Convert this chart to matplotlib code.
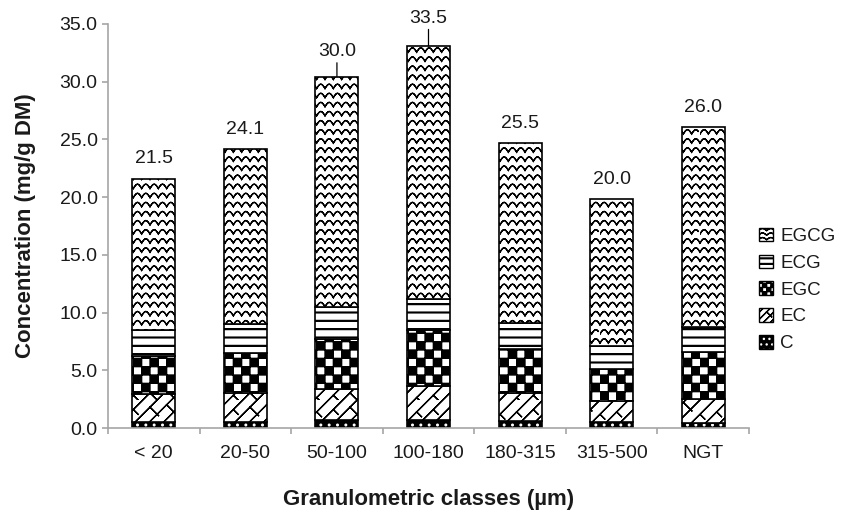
#!/usr/bin/env python3
"""Catechin content per granulometric class, stacked bars with hatch patterns."""

import warnings

import numpy as np
import matplotlib
matplotlib.use("Agg")
import matplotlib.pyplot as plt
import matplotlib.hatch as mhatch
from matplotlib.path import Path
from matplotlib.patches import Patch
from matplotlib.ticker import FixedLocator, FormatStrFormatter

warnings.filterwarnings("ignore")

classes = ["< 20", "20-50", "50-100", "100-180", "180-315", "315-500", "NGT"]
c_vals = [0.55, 0.55, 0.7, 0.7, 0.6, 0.5, 0.45]
ec_vals = [2.4, 2.45, 2.65, 2.95, 2.45, 1.8, 2.1]
egc_vals = [3.25, 3.5, 4.4, 4.8, 3.8, 2.8, 4.0]
ecg_vals = [2.3, 2.55, 2.7, 2.75, 2.25, 2.0, 2.2]
egcg_vals = [13.1, 15.1, 20.0, 21.9, 15.55, 12.7, 17.3]
total_labels = ["21.5", "24.1", "30.0", "33.5", "25.5", "20.0", "26.0"]


# matplotlib lacks the wavy, checker, stripe and brick hatches of the
# original, so a few small pattern classes are added to matplotlib.hatch
def _open_polyline(vertices, codes, pts):
    # go there and back so the filled area of an open line stays empty
    n = len(pts)
    vertices[:2 * n] = np.vstack([pts, pts[::-1]])
    codes[0] = Path.MOVETO
    codes[1:2 * n] = Path.LINETO


class WaveHatch(mhatch.HatchPatternBase):
    def __init__(self, hatch, density):
        self.num_rows = int(round(hatch.count("~") * 5.5))
        self.num_waves = 12
        self.pts = self.num_waves * 8 + 1
        self.num_vertices = self.num_rows * self.pts * 2

    def set_vertices_and_codes(self, vertices, codes):
        xs = np.linspace(0.0, 1.0, self.pts)
        step = 1.0 / self.num_rows
        wave = 0.24 * step * (2 * np.abs(np.sin(np.pi * self.num_waves * xs)) - 1)
        n2 = 2 * self.pts
        for r in range(self.num_rows):
            pts = np.column_stack([xs, (r + 0.5) * step + wave])
            _open_polyline(vertices[n2 * r:n2 * (r + 1)], codes[n2 * r:n2 * (r + 1)], pts)


class CheckerHatch(mhatch.HatchPatternBase):
    def __init__(self, hatch, density):
        self.num_cells = int(hatch.count("#") * density) * 2
        self.num_vertices = (self.num_cells ** 2 // 2) * 5

    def set_vertices_and_codes(self, vertices, codes):
        n = self.num_cells
        size = 1.0 / n
        k = 0
        for i in range(n):
            for j in range(n):
                if (i + j) % 2:
                    continue
                x, y = i * size, j * size
                vertices[k:k + 5] = [(x, y), (x + size, y), (x + size, y + size),
                                     (x, y + size), (x, y)]
                codes[k] = Path.MOVETO
                codes[k + 1:k + 4] = Path.LINETO
                codes[k + 4] = Path.CLOSEPOLY
                k += 5


class StripeHatch(mhatch.HatchPatternBase):
    def __init__(self, hatch, density):
        self.num_rows = int(hatch.count("=") * density)
        self.num_vertices = self.num_rows * 5

    def set_vertices_and_codes(self, vertices, codes):
        step = 1.0 / self.num_rows
        h = 0.004
        for r in range(self.num_rows):
            y = (r + 0.5) * step
            vertices[5 * r:5 * r + 5] = [(0, y - h), (1, y - h), (1, y + h),
                                         (0, y + h), (0, y - h)]
            codes[5 * r] = Path.MOVETO
            codes[5 * r + 1:5 * r + 4] = Path.LINETO
            codes[5 * r + 4] = Path.CLOSEPOLY


class BrickHatch(mhatch.HatchPatternBase):
    """'/' lines joined by short '\\' rungs, like a diagonal brick wall."""

    def __init__(self, hatch, density):
        self.n = int(hatch.count("z") * 7)
        self.rungs = 3
        if self.n:
            self.offsets = np.arange(-self.n - 1, self.n + 2) / self.n
        else:
            self.offsets = np.array([])
        self.num_vertices = len(self.offsets) * (4 + self.rungs * 2 * 4)

    def set_vertices_and_codes(self, vertices, codes):
        d = 1.0 / (2 * self.n)
        k = 0
        for idx, c in enumerate(self.offsets):
            pts = np.array([(-0.1, -0.1 + c), (1.1, 1.1 + c)])
            _open_polyline(vertices[k:k + 4], codes[k:k + 4], pts)
            k += 4
            shift = 0.5 if idx % 2 else 0.0
            for j in range(self.rungs):
                t0 = (j + shift) / self.rungs
                for t in (t0 - 1.0, t0):
                    pts = np.array([(t, t + c), (t + d, t + c - d)])
                    _open_polyline(vertices[k:k + 4], codes[k:k + 4], pts)
                    k += 4


mhatch._hatch_types.extend([WaveHatch, CheckerHatch, StripeHatch, BrickHatch])

plt.rcParams["font.family"] = ["Liberation Sans", "DejaVu Sans"]
plt.rcParams["hatch.linewidth"] = 0.95

GRAY = "#a6a6a6"
TEXT = "#1a1a1a"


def main() -> None:
    fig = plt.figure(figsize=(8.41, 5.11), dpi=100)
    ax = fig.add_axes([108 / 841, 83 / 511, 641 / 841, 404 / 511])

    x = np.arange(len(classes))
    width = 0.47
    bottom = np.zeros(len(classes))

    # C: black with white dots
    ax.bar(x, c_vals, width, bottom=bottom, color="black", edgecolor="white",
           hatch="..", linewidth=0)
    ax.bar(x, c_vals, width, bottom=bottom, fill=False, edgecolor="black", linewidth=1.2)
    bottom += c_vals

    layers = [
        ("EC", ec_vals, "z"),
        ("EGC", egc_vals, "#"),
        ("ECG", ecg_vals, "=="),
        ("EGCG", egcg_vals, "~~"),
    ]
    for name, vals, hatch in layers:
        ax.bar(x, vals, width, bottom=bottom, color="white", edgecolor="black",
               hatch=hatch, linewidth=1.2)
        bottom += vals

    # total labels, two of them pushed up with a leader line
    for i, top in enumerate(bottom):
        if i == 2:
            ax.annotate(total_labels[i], xy=(i, top), xytext=(0, 18),
                        textcoords="offset points", ha="center", va="center",
                        fontsize=14, color=TEXT,
                        arrowprops=dict(arrowstyle="-", color="black", lw=0.9,
                                        shrinkA=0, shrinkB=0))
        elif i == 3:
            ax.annotate(total_labels[i], xy=(i, top), xytext=(0, 20),
                        textcoords="offset points", ha="center", va="center",
                        fontsize=14, color=TEXT,
                        arrowprops=dict(arrowstyle="-", color="black", lw=0.9,
                                        shrinkA=0, shrinkB=0))
        else:
            ax.annotate(total_labels[i], xy=(i, top), xytext=(0, 14.5),
                        textcoords="offset points", ha="center", va="center",
                        fontsize=14, color=TEXT)

    ax.set_xlim(-0.5, len(classes) - 0.5)
    ax.set_ylim(0, 35)
    ax.yaxis.set_major_locator(FixedLocator(np.arange(0, 35.1, 5)))
    ax.yaxis.set_major_formatter(FormatStrFormatter("%.1f"))
    ax.set_xticks(x)
    ax.set_xticklabels(classes)
    ax.xaxis.set_minor_locator(FixedLocator(np.arange(-0.5, len(classes), 1.0)))

    for side in ("top", "right"):
        ax.spines[side].set_visible(False)
    for side in ("left", "bottom"):
        ax.spines[side].set_color(GRAY)
        ax.spines[side].set_linewidth(1.2)

    ax.tick_params(axis="y", direction="out", length=4, width=1.2, color=GRAY,
                   labelsize=14, labelcolor=TEXT, pad=3.5)
    ax.tick_params(axis="x", which="major", length=0, labelsize=14,
                   labelcolor=TEXT, pad=12)
    ax.tick_params(axis="x", which="minor", direction="out", length=4.5,
                   width=1.2, color=GRAY)

    ax.set_ylabel("Concentration (mg/g DM)", fontsize=16, fontweight="bold", color=TEXT)
    ax.yaxis.set_label_coords(-0.112, 0.5)
    ax.set_xlabel("Granulometric classes (µm)", fontsize=16, fontweight="bold", color=TEXT)
    ax.xaxis.set_label_coords(0.5, -0.152)

    handles = [
        Patch(facecolor="white", edgecolor="black", hatch="~~~~"),
        Patch(facecolor="white", edgecolor="black", hatch="==="),
        Patch(facecolor="white", edgecolor="black", hatch="##"),
        Patch(facecolor="white", edgecolor="black", hatch="zz"),
        (Patch(facecolor="black", edgecolor="white", hatch="...", linewidth=0),
         Patch(fill=False, edgecolor="black")),
    ]
    fig.legend(handles, ["EGCG", "ECG", "EGC", "EC", "C"], loc="center left",
               bbox_to_anchor=(750 / 841, 1 - 290 / 511), frameon=False,
               fontsize=13.5, handlelength=0.75, handleheight=0.75,
               handletextpad=0.35, labelspacing=0.5, borderpad=0,
               labelcolor=TEXT)

    fig.savefig("out.png", dpi=100)


if __name__ == "__main__":
    main()
